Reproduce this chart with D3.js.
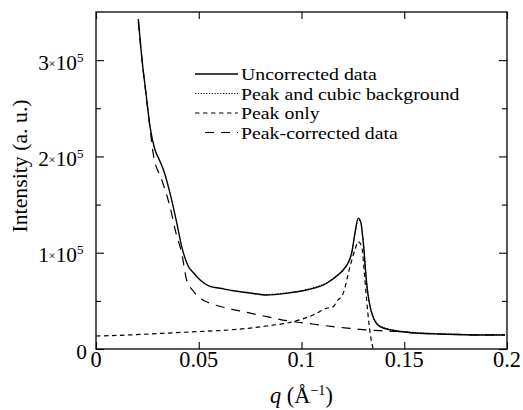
<!DOCTYPE html>
<html><head><meta charset="utf-8">
<script src="https://cdn.jsdelivr.net/npm/d3@7"></script>
<style>
body{margin:0;background:#fff;}
</style></head>
<body><svg id="c" width="523" height="410"></svg>
<script>
// ---- data (q in 1/Å, intensity in units of 1e5) ----
const uncorrectedQ = [0.0206,0.0224,0.0243,0.0263,0.0287,0.0308,0.0328,0.0368,0.0393,0.0417,0.0449,0.0475,0.0498,0.0525,0.0555,0.0603,0.0668,0.0749,0.0831,0.0928,0.1025,0.1123,0.1187,0.1203,0.1244,0.1260,0.1276,0.1288,0.1301,0.1317,0.1342,0.1382,0.1463,0.1544,0.1707,0.1869,0.1990];
const uncorrectedI = [3.427,3.004,2.661,2.308,2.069,1.965,1.861,1.549,1.310,1.063,0.860,0.790,0.735,0.685,0.650,0.631,0.605,0.582,0.561,0.579,0.613,0.683,0.787,0.821,0.995,1.203,1.359,1.323,1.099,0.683,0.371,0.232,0.187,0.169,0.153,0.146,0.146];

const fitQ = [0.0760,0.0831,0.0928,0.1025,0.1123,0.1187,0.1203,0.1244,0.1260,0.1276,0.1288,0.1301,0.1317,0.1342,0.1382,0.1463,0.1544,0.1707,0.1869,0.1990];
const fitI = [0.575,0.566,0.583,0.618,0.690,0.790,0.824,0.990,1.190,1.345,1.315,1.095,0.690,0.380,0.240,0.192,0.172,0.156,0.148,0.147];

const peakQ = [0.0000,0.0162,0.0325,0.0487,0.0649,0.0831,0.0960,0.1057,0.1123,0.1155,0.1171,0.1203,0.1236,0.1260,0.1276,0.1293,0.1306,0.1317,0.1330,0.1346,0.1349];
const peakI = [0.135,0.146,0.163,0.180,0.198,0.239,0.284,0.353,0.423,0.440,0.492,0.579,0.856,1.029,1.115,1.063,0.787,0.509,0.232,0.024,0.000];

const correctedQ = [0.0206,0.0224,0.0243,0.0263,0.0279,0.0320,0.0360,0.0389,0.0417,0.0441,0.0470,0.0506,0.0555,0.0636,0.0717,0.0831,0.0928,0.1025,0.1155,0.1236,0.1317,0.1382,0.1463,0.1544,0.1707,0.1869,0.1990];
const correctedI = [3.40,3.00,2.65,2.29,2.02,1.757,1.479,1.206,0.995,0.717,0.610,0.530,0.475,0.426,0.388,0.336,0.294,0.267,0.232,0.215,0.198,0.190,0.183,0.168,0.153,0.146,0.146];

const xTicks = [0,0.05,0.1,0.15,0.2];
const xTickLabels = ["0","0.05","0.1","0.15","0.2"];
const yTicks = [0,1,2,3];
const yMinor = [0.5,1.5,2.5];
const legendLabels = ["Uncorrected data","Peak and cubic background","Peak only","Peak-corrected data"];

// ---- layout ----
const FONT = "'Liberation Serif', 'Times New Roman', Tinos, 'DejaVu Serif', serif";
const svg = d3.select("#c");
const L=96, T=12, R=507, B=349;
const x = d3.scaleLinear().domain([0,0.2]).range([L,R]);
const y = d3.scaleLinear().domain([0,3.5]).range([B,T]);

// calibrate font size: reference legend text "Peak and cubic background" is ~246px wide
const probe = svg.append("text").attr("font-family",FONT).attr("font-size",22).text(legendLabels[1]);
const w = probe.node().getComputedTextLength();
const h = probe.node().getBBox().height;
probe.remove();
const k = (w>0) ? 246/w : 1;
const fs = s => s*k;
const lgDy = 19.5;
const lgSize = Math.min(fs(22), 22*lgDy/(h||26)*0.98);
const lgNatural = w*lgSize/22;
const lgStretch = Math.min(246/lgNatural, 1.18);

const styles = [
  {w:1.4, dash:null},
  {w:1.1, dash:"1.2,1.6"},
  {w:1.2, dash:"4.5,3.5"},
  {w:1.2, dash:"9,7"}
];
const series = [
  [uncorrectedQ,uncorrectedI],
  [fitQ,fitI],
  [peakQ,peakI],
  [correctedQ,correctedI]
];

svg.append("clipPath").attr("id","clip").append("rect")
  .attr("x",L).attr("y",T).attr("width",R-L).attr("height",B-T);

const line = d3.line().x(d=>x(d[0])).y(d=>y(d[1])).curve(d3.curveMonotoneX);
const g = svg.append("g").attr("clip-path","url(#clip)");
[3,2,1,0].forEach(i=>{
  const [qs,is]=series[i];
  g.append("path").datum(qs.map((q,j)=>[q,is[j]]))
    .attr("d",line).attr("fill","none").attr("stroke","#000")
    .attr("stroke-width",styles[i].w)
    .attr("stroke-dasharray",styles[i].dash);
});

// axes (ticks inward on all four sides)
const axB = d3.axisBottom(x).tickValues(xTicks).tickSizeInner(-7).tickSizeOuter(0).tickFormat("");
const axT = d3.axisTop(x).tickValues(xTicks).tickSizeInner(-7).tickSizeOuter(0).tickFormat("");
const yAll = yTicks.concat(yMinor);
const axL = d3.axisLeft(y).tickValues(yAll).tickSizeOuter(0).tickFormat("");
const axR = d3.axisRight(y).tickValues(yAll).tickSizeOuter(0).tickFormat("");
function style(sel){ sel.select(".domain").remove(); sel.selectAll("line").attr("stroke","#000").attr("stroke-width",1.1); }
svg.append("g").attr("transform",`translate(0,${B})`).call(axB).call(style);
svg.append("g").attr("transform",`translate(0,${T})`).call(axT).call(style);
const gl = svg.append("g").attr("transform",`translate(${L},0)`).call(axL).call(style);
gl.selectAll(".tick line").attr("x2",d=>yTicks.includes(d)?8:5);
const gr = svg.append("g").attr("transform",`translate(${R},0)`).call(axR).call(style);
gr.selectAll(".tick line").attr("x2",d=>yTicks.includes(d)?-8:-5);

svg.append("rect").attr("x",L).attr("y",T).attr("width",R-L).attr("height",B-T)
  .attr("fill","none").attr("stroke","#000").attr("stroke-width",1.3);

const txt = svg.append("g").attr("font-family",FONT).attr("fill","#000");

// tick labels
txt.append("g").selectAll("text").data(xTicks).join("text")
  .attr("x",d=>x(d)).attr("y",B+18).attr("text-anchor","middle")
  .attr("font-size",fs(22)).text((d,i)=>xTickLabels[i]);

const yl = txt.append("g").selectAll("text").data(yTicks).join("text")
  .attr("x",0).attr("y",d=>y(d)+9.5).attr("text-anchor","start").attr("font-size",fs(21));
yl.each(function(d){
  const t=d3.select(this);
  if(d===0){ t.text("0"); }
  else {
    t.append("tspan").text(d);
    t.append("tspan").attr("font-size",fs(12)).attr("dy",-2).text("×");
    t.append("tspan").attr("dy",2).text("10");
    t.append("tspan").attr("font-size",fs(13)).attr("dy",-8).text("5");
  }
  const len = this.getBBox().width;
  const right = d===0 ? L-9 : L-12;
  t.attr("x", right - len);
});

// axis titles
const xt = txt.append("text").attr("x",x(0.1)).attr("y",403).attr("text-anchor","middle").attr("font-size",fs(22));
xt.append("tspan").attr("font-style","italic").text("q");
xt.append("tspan").text(" (Å");
xt.append("tspan").attr("font-size",fs(14)).attr("dy",-8).text("−1");
xt.append("tspan").attr("dy",8).text(")");

txt.append("text").attr("transform",`translate(27,166) rotate(-90)`)
  .attr("text-anchor","middle").attr("font-size",fs(21.5)).text("Intensity (a. u.)");

// legend
const lgY0 = 74;
legendLabels.forEach((lab,i)=>{
  const yy = lgY0 + i*lgDy;
  const x1 = i===3?205:195;
  svg.append("line").attr("x1",x1).attr("x2",238).attr("y1",yy).attr("y2",yy)
    .attr("stroke","#000").attr("stroke-width",styles[i].w).attr("stroke-dasharray",styles[i].dash);
  const t = txt.append("text").attr("x",241).attr("y",yy+lgSize*0.36).attr("font-size",lgSize).text(lab);
  const nat = t.node().getComputedTextLength();
  t.attr("textLength", nat*lgStretch).attr("lengthAdjust","spacingAndGlyphs");
});
</script></body></html>
